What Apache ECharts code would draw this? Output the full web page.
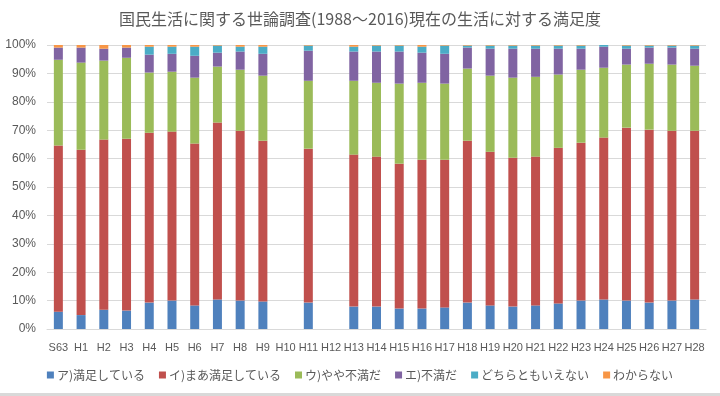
<!DOCTYPE html>
<html>
<head>
<meta charset="utf-8">
<script src="https://cdn.jsdelivr.net/npm/echarts@6/dist/echarts.min.js"></script>
<style>
  html, body { margin: 0; padding: 0; background: #fff; }
  #main { width: 720px; height: 396px; }
</style>
</head>
<body>
<div id="main"></div>
<script>
// 調査年 (H10, H12 は調査なし)
var years = ['S63', 'H1', 'H2', 'H3', 'H4', 'H5', 'H6', 'H7', 'H8', 'H9', 'H10', 'H11', 'H12', 'H13', 'H14',
  'H15', 'H16', 'H17', 'H18', 'H19', 'H20', 'H21', 'H22', 'H23', 'H24', 'H25', 'H26', 'H27', 'H28']

var manzoku = [6.1, 4.9, 6.8, 6.5, 9.3, 10.0, 8.3, 10.4, 10.0, 9.7, null, 9.3, null, 7.9, 7.9,
  7.2, 7.2, 7.6, 9.3, 8.3, 7.9, 8.3, 9.0, 10.0, 10.4, 10.0, 9.3, 10.0, 10.4]
var maaManzoku = [58.5, 58.2, 59.9, 60.5, 59.8, 59.5, 57.0, 62.3, 59.8, 56.6, null, 54.2, null, 53.5, 52.8,
  51.0, 52.4, 52.0, 57.0, 54.1, 52.4, 52.4, 54.8, 55.6, 57.0, 60.9, 60.9, 59.8, 59.4]
var yayaFuman = [30.2, 30.7, 27.8, 28.5, 21.2, 21.1, 23.2, 19.7, 21.5, 22.9, null, 23.9, null, 26.0, 26.0,
  28.2, 27.1, 26.8, 25.4, 26.8, 28.2, 28.1, 25.8, 25.7, 24.6, 22.2, 23.2, 23.3, 22.9]
var fuman = [4.3, 5.3, 4.2, 3.6, 6.3, 6.3, 7.7, 4.9, 6.4, 7.7, null, 10.6, null, 10.3, 11.0,
  11.3, 10.6, 10.5, 7.4, 9.5, 10.2, 9.9, 9.1, 7.4, 7.4, 5.6, 5.7, 6.0, 6.0]
var dochira = [0, 0, 0, 0, 2.8, 2.5, 3.2, 2.5, 1.7, 2.5, null, 1.8, null, 1.7, 2.1,
  2.1, 2.1, 2.9, 0.7, 1.1, 1.1, 1.1, 1.1, 1.1, 0.6, 1.1, 0.7, 0.7, 1.1]
var wakaranai = [0.9, 0.9, 1.3, 0.9, 0.6, 0.6, 0.6, 0.2, 0.6, 0.6, null, 0.2, null, 0.6, 0.2,
  0.2, 0.6, 0.2, 0.2, 0.2, 0.2, 0.2, 0.2, 0.2, 0.0, 0.2, 0.2, 0.2, 0.2]

var names = ['ア)満足している', 'イ)まあ満足している', 'ウ)やや不満だ', 'エ)不満だ', 'どちらともいえない', 'わからない']
var colors = ['#4F81BD', '#C0504D', '#9BBB59', '#8064A2', '#4BACC6', '#F79646']
var values = [manzoku, maaManzoku, yayaFuman, fuman, dochira, wakaranai]

var font = '"Noto Sans CJK JP", "Noto Sans", sans-serif'
var chart = echarts.init(document.getElementById('main'))

var series = names.map(function (n, i) {
  return {
    name: n,
    type: 'bar',
    stack: 'all',
    barWidth: 9,
    itemStyle: { color: colors[i] },
    data: values[i]
  }
})

chart.setOption({
  animation: false,
  color: colors,
  title: {
    text: '国民生活に関する世論調査(1988～2016)現在の生活に対する満足度',
    left: 'center',
    top: 6,
    textStyle: { fontFamily: font, fontSize: 16, fontWeight: 'normal', color: '#595959' }
  },
  grid: { left: 47, right: 14, top: 45, bottom: 67 },
  legend: {
    bottom: 10,
    left: 'center',
    itemWidth: 7,
    itemHeight: 7,
    itemGap: 14,
    icon: 'rect',
    textStyle: { fontFamily: font, fontSize: 12, color: '#595959', padding: [0, 0, 0, -2] },
    data: names
  },
  xAxis: {
    type: 'category',
    data: years,
    axisTick: { show: false },
    axisLine: { lineStyle: { color: '#D9D9D9' } },
    axisLabel: { interval: 0, margin: 13, fontFamily: '"Liberation Sans", sans-serif', fontSize: 11, color: '#595959' }
  },
  yAxis: {
    type: 'value',
    min: 0,
    max: 100,
    interval: 10,
    axisLabel: { formatter: '{value}%', fontFamily: '"Liberation Sans", sans-serif', fontSize: 12, color: '#595959', margin: 11 },
    axisLine: { show: false },
    axisTick: { show: false },
    splitLine: { lineStyle: { color: '#D9D9D9' } }
  },
  graphic: [{
    type: 'rect',
    left: 0,
    bottom: 0,
    shape: { width: 720, height: 3 },
    style: { fill: '#D9D9D9' }
  }],
  series: series
})
</script>
</body>
</html>
